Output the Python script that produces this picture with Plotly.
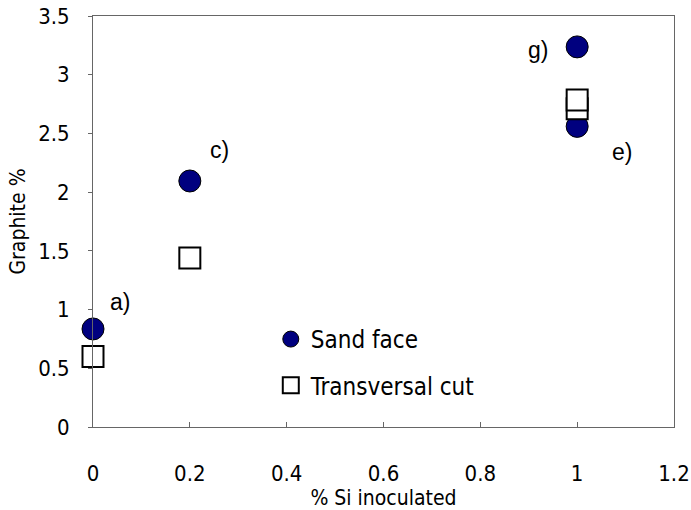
import plotly.graph_objects as go

# % Si inoculated and graphite content per sample
si_inoculated = [0, 0.2, 1, 1]
sample_labels = ["a)", "c)", "e)", "g)"]
graphite_sand_face = [0.835, 2.095, 2.56, 3.237]
graphite_transversal = [0.60, 1.44, 2.71, 2.785]

x_ticks = [0, 0.2, 0.4, 0.6, 0.8, 1, 1.2]
y_ticks = [0, 0.5, 1, 1.5, 2, 2.5, 3, 3.5]
x_tick_text = ["0", "0.2", "0.4", "0.6", "0.8", "1", "1.2"]
y_tick_text = ["0", "0.5", "1", "1.5", "2", "2.5", "3", "3.5"]

# label offsets (pixels) for each sample tag
label_shift = [(27, -27), (30, -31), (45, 26), (-39, 3)]

narrow = "DejaVu Sans Condensed, Liberation Sans Narrow, Arial Narrow, sans-serif"

fig = go.Figure()
fig.add_trace(go.Scatter(
    x=si_inoculated, y=graphite_sand_face, mode="markers", name="Sand face",
    legendgroup="sand", cliponaxis=False,
    marker=dict(symbol="circle", size=22, color="#00007f",
                line=dict(color="#000000", width=1)),
))
fig.add_trace(go.Scatter(
    x=si_inoculated, y=graphite_transversal, mode="markers", name="Transversal cut",
    legendgroup="trans", cliponaxis=False,
    marker=dict(symbol="square", size=21, color="#ffffff",
                line=dict(color="#000000", width=2)),
))

for xv, yv, lab, (dx, dy) in zip(si_inoculated, graphite_sand_face, sample_labels, label_shift):
    fig.add_annotation(x=xv, y=yv, text=lab, showarrow=False, xshift=dx, yshift=-dy,
                       font=dict(family="Arial, Liberation Sans, sans-serif", size=23, color="#000"))

axis_common = dict(showline=True, linecolor="#666666", linewidth=1, mirror=True,
                   showgrid=False, zeroline=False, tickcolor="#666666", automargin=False,
                   tickfont=dict(family=narrow, size=22, color="#000"))

fig.update_xaxes(range=[0, 1.2], tickmode="array", tickvals=x_ticks, ticktext=x_tick_text,
                 ticks="inside", ticklen=5, ticklabelstandoff=27,
                 title=dict(text="% Si inoculated", font=dict(family=narrow, size=21, color="#000"),
                            standoff=4),
                 **axis_common)
fig.update_yaxes(range=[0, 3.5], tickmode="array", tickvals=y_ticks, ticktext=y_tick_text,
                 ticks="outside", ticklen=4, ticklabelstandoff=14,
                 title=dict(text="Graphite %", font=dict(family=narrow, size=21, color="#000"),
                            standoff=6),
                 **axis_common)

fig.update_layout(
    width=691, height=510,
    margin=dict(l=93, r=17, t=16, b=83),
    paper_bgcolor="white", plot_bgcolor="white",
    showlegend=True,
    legend=dict(x=0.306, y=0.157, xanchor="left", yanchor="middle",
                bgcolor="rgba(0,0,0,0)", traceorder="grouped", tracegroupgap=12,
                font=dict(family=narrow, size=24, color="#000")),
)

fig.write_html("out.html")
